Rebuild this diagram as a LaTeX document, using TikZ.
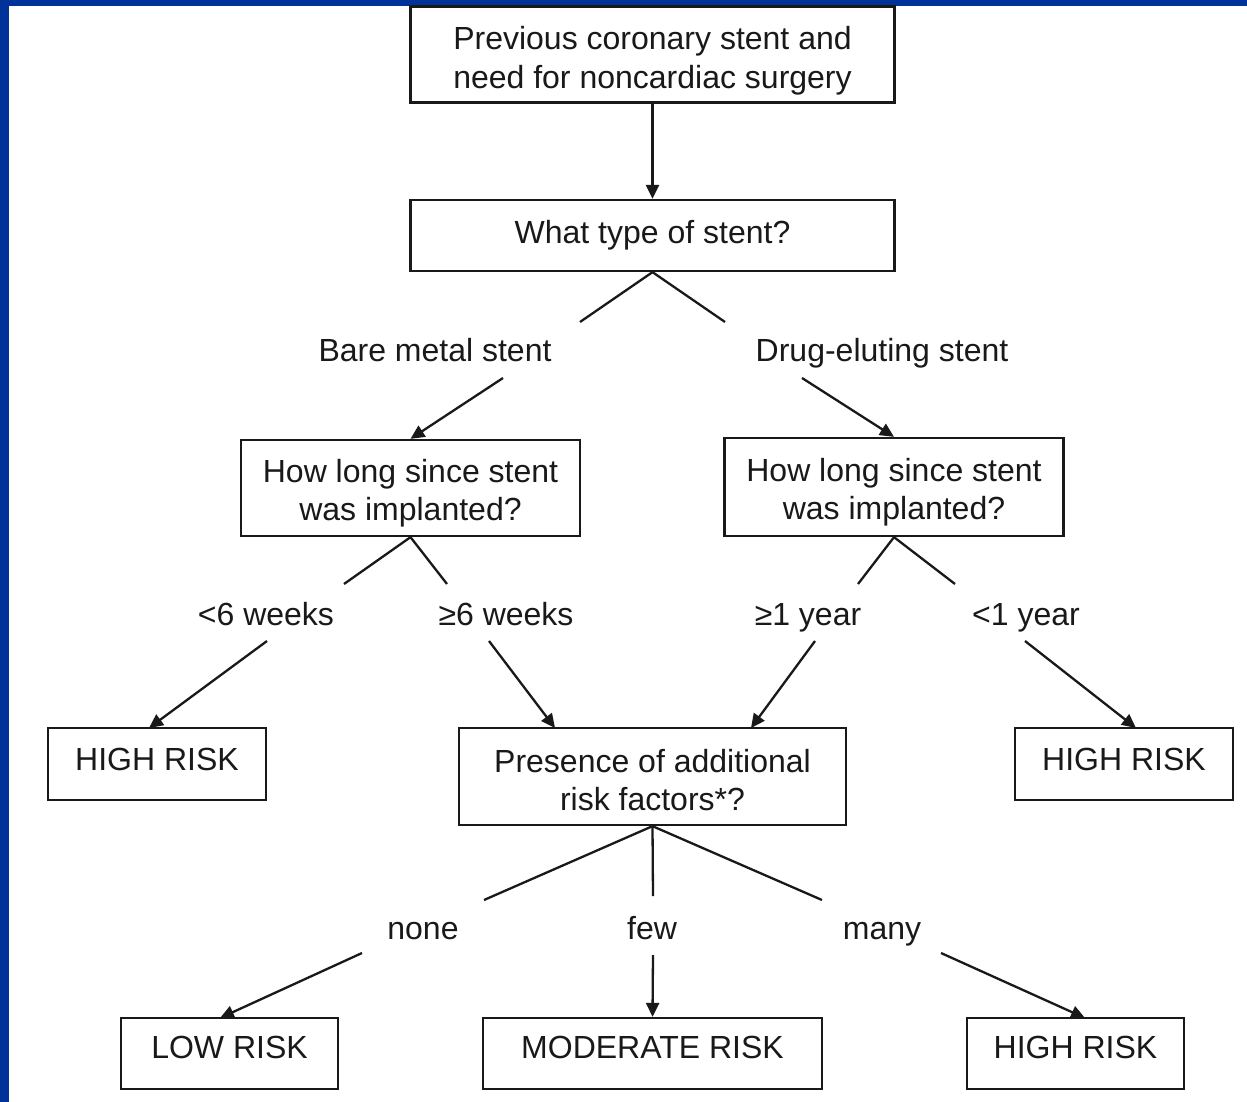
\documentclass[tikz,border=0pt]{standalone}
\usepackage{fontspec}
\setmainfont{Liberation Sans}
\usetikzlibrary{arrows.meta}
\definecolor{frameblue}{RGB}{0,51,153}
\definecolor{ink}{RGB}{25,25,25}
\newcommand{\lowstrut}[1]{\rule[-#1]{0pt}{#1}}
\newcommand{\highstrut}[1]{\rule{0pt}{#1}}
\begin{document}
\begin{tikzpicture}[x=1pt,y=-1pt,
  every node/.style={font=\fontsize{32}{38.5}\selectfont, text=ink},
  box/.style={draw=ink, line width=2.3pt, inner sep=0pt, align=center},
  lbl/.style={inner sep=0pt, align=center, text height=23pt, text depth=1pt},
  conn/.style={draw=ink, line width=2.3pt},
  arr/.style={conn, -{Triangle[length=14pt,width=13pt]}}]
% background and frame
\fill[frameblue] (0,0) rectangle (1247,1102);
\fill[white] (9,6) rectangle (1247,1102);
\useasboundingbox (0,0) rectangle (1247,1102);
% boxes
\node[box, minimum width=484pt, minimum height=96pt] (start) at (652.5,54.5) {\highstrut{36pt}Previous coronary stent and\\need for noncardiac surgery};
\node[box, minimum width=484pt, minimum height=71pt] (type) at (652.5,235.5) {What type of stent?};
\node[box, minimum width=339pt, minimum height=96pt] (bms) at (410.5,488) {\highstrut{34pt}How long since stent\\was implanted?};
\node[box, minimum width=339pt, minimum height=98pt] (des) at (894,487) {\highstrut{34pt}How long since stent\\was implanted?};
\node[box, minimum width=218pt, minimum height=72pt] (hr1) at (157,764) {\lowstrut{10pt}HIGH RISK};
\node[box, minimum width=387pt, minimum height=97pt] (pres) at (652.5,776.5) {\highstrut{30pt}Presence of additional\\risk factors*?};
\node[box, minimum width=218pt, minimum height=72pt] (hr2) at (1124,764) {\lowstrut{10pt}HIGH RISK};
\node[box, minimum width=217pt, minimum height=71pt] (low) at (229.5,1053.5) {\lowstrut{12pt}LOW RISK};
\node[box, minimum width=339pt, minimum height=71pt] (mod) at (652.5,1053.5) {\lowstrut{12pt}MODERATE RISK};
\node[box, minimum width=217pt, minimum height=71pt] (hr3) at (1075.5,1053.5) {\lowstrut{12pt}HIGH RISK};
% labels
\node[lbl] (lbms) at (435,350) {Bare metal stent};
\node[lbl] (ldes) at (882,350) {Drug-eluting stent};
\node[lbl] (l6a) at (266,614) {<6 weeks};
\node[lbl] (l6b) at (506,614) {≥6 weeks};
\node[lbl] (l1a) at (808,614) {≥1 year};
\node[lbl] (l1b) at (1026,614) {<1 year};
\node[lbl] (lnone) at (423,928) {none};
\node[lbl] (lfew) at (652,928) {few};
\node[lbl] (lmany) at (882,928) {many};
% free ends
\coordinate (c1) at (580,322);
\coordinate (c2) at (725,322);
\coordinate (c3) at (503,378);
\coordinate (c4) at (802,378);
\coordinate (c5) at (344,584);
\coordinate (c6) at (447,584);
\coordinate (c7) at (858,584);
\coordinate (c8) at (955,584);
\coordinate (c9) at (267,641);
\coordinate (c10) at (489,641);
\coordinate (c11) at (815,641);
\coordinate (c12) at (1025,641);
\coordinate (c13) at (484,900);
\coordinate (c14) at (653,896);
\coordinate (c15) at (822,900);
\coordinate (c16) at (362,953);
\coordinate (c17) at (653,955);
\coordinate (c18) at (941,953);
\coordinate (t1) at (149,728);
\coordinate (t2) at (555,728);
\coordinate (t3) at (751,728);
\coordinate (t4) at (1136,728);
\coordinate (t5) at (220,1018);
\coordinate (t6) at (1085,1018);
% connectors
\draw[arr] (start.south) -- (type.north);
\draw[conn] (c1) -- (type.south) -- (c2);
\draw[arr] (c3) -- (bms.north);
\draw[arr] (c4) -- (des.north);
\draw[conn] (c5) -- (bms.south) -- (c6);
\draw[conn] (c7) -- (des.south) -- (c8);
\draw[arr] (c9) -- (t1);
\draw[arr] (c10) -- (t2);
\draw[arr] (c11) -- (t3);
\draw[arr] (c12) -- (t4);
\draw[conn] (c13) -- (pres.south) -- (c15);
\draw[conn] (pres.south) -- (c14);
\draw[arr] (c16) -- (t5);
\draw[arr] (c17) -- (mod.north);
\draw[arr] (c18) -- (t6);
\end{tikzpicture}
\end{document}
